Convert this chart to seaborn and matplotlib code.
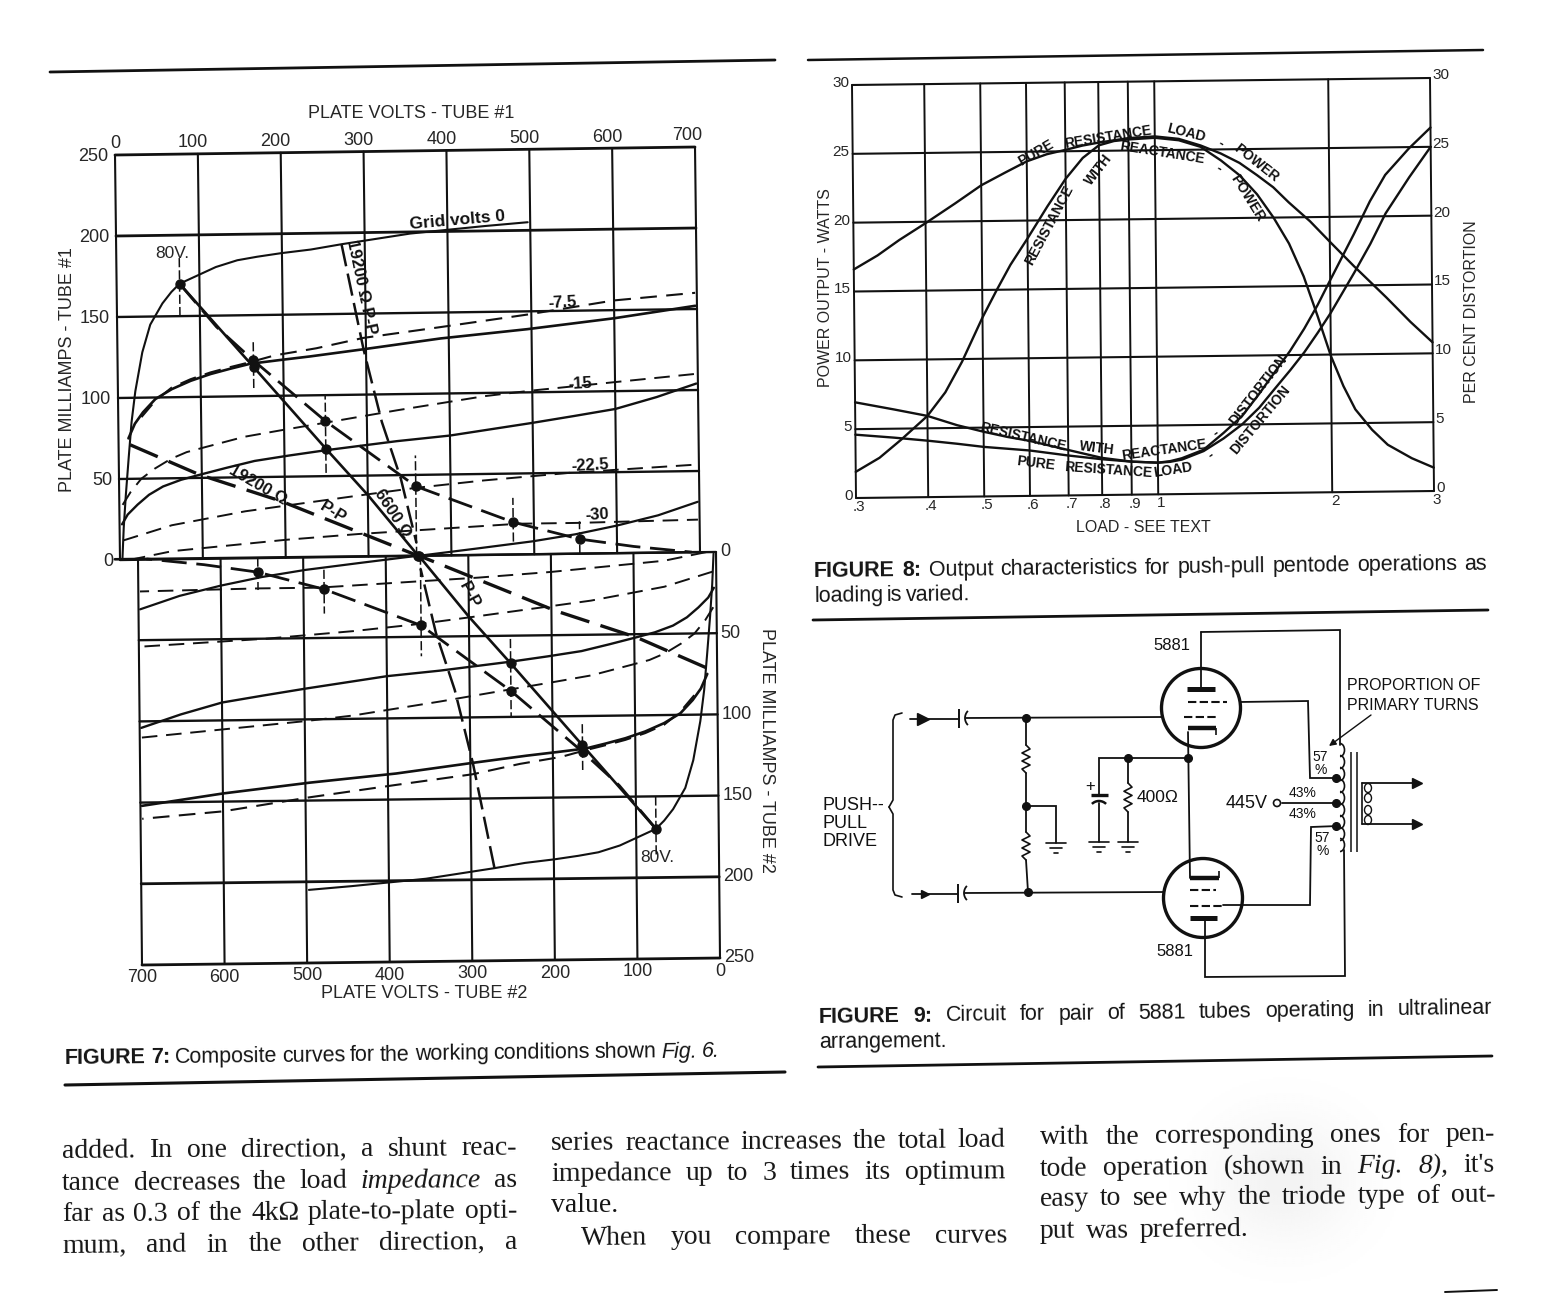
import numpy as np
import matplotlib
matplotlib.use("Agg")
import matplotlib.pyplot as plt
import seaborn as sns
from matplotlib.patches import Arc, Circle, Ellipse
from matplotlib.transforms import Affine2D

W, H = 1543, 1294

# ---- figure 7 data (plate volts, plate mA)
grid0_v = [3, 5, 8, 12, 16, 21, 30, 40, 55, 66, 76, 98, 120, 146, 170, 199, 235, 272, 355, 445, 497]
grid0_ma = [1, 20, 40, 63, 85, 104, 128, 145, 158, 165, 170, 175, 180, 184, 186, 188, 190, 193, 199, 203, 205]
g75_v = [12, 20, 30, 45, 65, 88, 112, 135, 160, 195, 232, 297, 390, 495, 600, 698]
g75_ma = [75, 84, 91, 99, 105, 110, 114, 117, 120, 122, 124, 128, 134, 139, 145, 152]
g75d_v = [28, 45, 65, 88, 112, 135, 160, 190, 240, 297, 390, 495, 600, 698]
g75d_ma = [88, 98, 106, 111, 115, 118, 121, 125, 129, 135, 141, 148, 156, 160]
g15_v = [3, 10, 22, 36, 53, 75, 98, 130, 164, 205, 250, 336, 400, 442, 498, 550, 600, 650, 698]
g15_ma = [22, 28, 34, 40, 45, 49, 52, 56, 60, 63, 66, 71, 74, 77, 81, 85, 89, 96, 104]
g15d_v = [4, 14, 27, 43, 63, 82, 105, 152, 200, 250, 336, 442, 498, 587, 698]
g15d_ma = [34, 42, 50, 56, 62, 66, 69, 75, 79, 83, 90, 98, 101, 105, 110]
g225_v = [360, 430, 498, 550, 600, 650, 698]
g225_ma = [0, 4, 8, 12, 17, 23, 31]
g225d_v = [4, 63, 152, 230, 293, 358, 440, 545, 698]
g225d_ma = [12, 21, 29, 34, 38, 42, 46, 50, 54]
g30d_v = [12, 63, 199, 288, 366, 482, 553, 698]
g30d_ma = [0, 5, 11, 14, 16, 19, 19, 20]
load_6600_v = [76, 164, 250, 300, 360]
load_6600_ma = [170, 118, 67, 38, 0]
load_react_v = [76, 120, 164, 250, 358, 475, 555, 620, 690]
load_react_ma = [170, 143, 122, 84, 43, 20, 9, 4, 0]
load_19200_v = [14, 97, 195, 294, 360]
load_19200_ma = [71, 52, 35, 14, 0]
load_1920_v = [272, 297, 318, 340, 358]
load_1920_ma = [193, 128, 83, 48, 8]
point_v = [76, 164, 164, 250, 250, 358, 360, 475, 555]
point_ma = [170, 122, 118, 84, 67, 43, 0, 20, 9]
mark_v = [76, 164, 250, 358, 475, 555]
mark_lo = [150, 105, 52, 0, 8, 0]
mark_hi = [186, 135, 100, 62, 35, 20]
volt_ticks = [0, 100, 200, 300, 400, 500, 600, 700]
ma_ticks = [0, 50, 100, 150, 200, 250]

# ---- figure 8 data (load, watts or per cent)
load_ticks = [.3, .4, .5, .6, .7, .8, .9, 1, 2, 3]
load_labels = [".3", ".4", ".5", ".6", ".7", ".8", ".9", "1", "2", "3"]
watt_ticks = [0, 5, 10, 15, 20, 25, 30]
pure_x = [.3, .33, .36, .4, .45, .5, .55, .6, .65, .7, .75, .8, .9, 1, 1.1, 1.2, 1.3, 1.4, 1.5, 1.6, 1.7, 1.85, 2, 2.2, 2.5, 2.75, 3]
pure_power = [16.6, 17.6, 18.7, 19.9, 21.3, 22.6, 23.5, 24.3, 24.8, 25.1, 25.4, 25.6, 25.9, 26, 25.8, 25.3, 24.7, 24,
              23.1, 22.2, 21.1, 19.7, 18.2, 16.4, 14.1, 12.3, 10.8]
react_x = [.3, .33, .36, .4, .43, .46, .5, .53, .56, .6, .65, .7, .75, .8, .85, .9, 1, 1.1, 1.2, 1.3, 1.4, 1.5, 1.6, 1.7,
           1.8, 1.9, 2, 2.1, 2.2, 2.35, 2.5, 2.75, 3]
react_power = [1.9, 2.9, 4.2, 5.9, 7.6, 9.8, 13, 15, 16.8, 18.7, 21, 23, 24.5, 25.4, 25.7, 25.8, 25.9, 25.7, 25.2, 24.2,
               23.1, 21.7, 20, 18.1, 15.7, 12.8, 9.9, 7.7, 6, 4.5, 3.4, 2.4, 1.7]
dist_x = [.3, .35, .4, .45, .5, .55, .6, .7, .8, .9, 1, 1.05, 1.1, 1.2, 1.3, 1.4, 1.5, 1.6, 1.7, 1.8, 1.9, 2, 2.2, 2.35, 2.5, 2.75, 3]
react_dist = [6.95, 6.4, 5.9, 5.2, 4.7, 4.3, 4, 3.3, 2.7, 2.4, 2.3, 2.4, 2.6, 3.2, 4.4, 5.6, 7.2, 8.8, 10.3, 11.9, 13.6,
              15.4, 18.7, 21.1, 23, 24.9, 26.4]
dist2_x = [.3, .35, .4, .45, .5, .6, .7, .8, .9, 1, 1.05, 1.1, 1.2, 1.3, 1.4, 1.5, 1.6, 1.7, 1.8, 1.9, 2, 2.2, 2.35, 2.5, 2.75, 3]
pure_dist = [4.6, 4.35, 4.1, 3.85, 3.6, 3.3, 2.9, 2.6, 2.4, 2.3, 2.35, 2.5, 3.1, 4, 5, 6.2, 7.6, 8.9, 10.2, 11.6, 13, 15.9,
             18, 20.2, 22.8, 25]

sns.set_style("white")
plt.rcParams["font.family"] = ["Liberation Sans", "DejaVu Sans"]
fig = plt.figure(figsize=(W / 100, H / 100), dpi=100)
page = fig.add_axes([0, 0, 1, 1])

# the faint show-through on the scan, lower right
yy, xx = np.mgrid[-1:1:120j, -1:1:120j]
page.imshow(0.05 * np.exp(-3.5 * (xx ** 2 + yy ** 2)), extent=(1150, 1420, 1300, 1060), cmap="gray_r", vmin=0, vmax=1,
            aspect="auto", interpolation="bilinear")
page.set_xlim(0, W)
page.set_ylim(H, 0)
page.axis("off")


def panel(left, top, right, bottom, sx, sy):
    ax = fig.add_axes([left / W, 1 - bottom / H, (right - left) / W, (bottom - top) / H])
    ax.axis("off")
    tr = ax.transData + ax.transAxes.inverted() + Affine2D.from_values(1, sy, sx, 1, 0, 0) + ax.transAxes
    return ax, tr


def curve(ax, tr, x, y, lw=1.5, ls="-"):
    sns.lineplot(x=x, y=y, ax=ax, color="#111111", linewidth=lw, linestyle=ls, sort=False,
                 estimator=None, transform=tr, clip_on=False, legend=False)


DASH = (0, (8, 4.5))
BIG = (0, (9, 3.5))


def draw_fig7(ax, tr):
    for v in volt_ticks:
        ax.plot([v, v], [0, 250], color="#111111", lw=1.5, transform=tr, clip_on=False)
    for m in ma_ticks:
        lw = 2.0 if m in (200, 250) else 1.7
        ax.plot([0, 700], [m, m], color="#111111", lw=lw, transform=tr, clip_on=False)
    curve(ax, tr, grid0_v, grid0_ma, 1.5)
    curve(ax, tr, g75_v, g75_ma, 1.9)
    curve(ax, tr, g75d_v, g75d_ma, 1.5, DASH)
    curve(ax, tr, g15_v, g15_ma, 1.7)
    curve(ax, tr, g15d_v, g15d_ma, 1.4, DASH)
    curve(ax, tr, g225_v, g225_ma, 1.6)
    curve(ax, tr, g225d_v, g225d_ma, 1.4, DASH)
    curve(ax, tr, g30d_v, g30d_ma, 1.4, DASH)
    curve(ax, tr, load_6600_v, load_6600_ma, 1.9)
    curve(ax, tr, load_react_v, load_react_ma, 2.0, BIG)
    curve(ax, tr, load_19200_v, load_19200_ma, 2.4, BIG)
    curve(ax, tr, load_1920_v, load_1920_ma, 1.8, (0, (9, 3)))
    ax.plot(point_v, point_ma, "o", color="#111111", ms=6.5, transform=tr, clip_on=False)
    for v, lo, hi in zip(mark_v, mark_lo, mark_hi):
        ax.plot([v, v], [lo, hi], color="#111111", lw=1.1, ls=(0, (6, 2)), transform=tr, clip_on=False)


# figure 7, upper set of curves
ax7a, tr7a = panel(120, 155, 700, 560, -5 / 580, 8 / 405)
draw_fig7(ax7a, tr7a)
ax7a.set_xlim(0, 700)
ax7a.set_ylim(0, 250)
for v in volt_ticks:
    ax7a.annotate(str(v), (v, 250), xycoords=tr7a, xytext=(-8 if v == 700 else -5 if v else 0, 11), textcoords="offset pixels",
                  ha="center", va="center", fontsize=13)
for m in ma_ticks:
    ax7a.annotate(str(m), (0, m), xycoords=tr7a, xytext=(-7, -2), textcoords="offset pixels",
                  ha="right", va="center", fontsize=13)

# figure 7, lower set of curves is the same tube seen from the other end
ax7b, tr7b = panel(142, 559, 720, 965, -4 / 578, 7 / 406)
draw_fig7(ax7b, tr7b)
ax7b.plot([728, 700], [0, 0], color="#111111", lw=1.9, transform=tr7b, clip_on=False)
ax7b.set_xlim(700, 0)
ax7b.set_ylim(250, 0)
for v in volt_ticks:
    ax7b.annotate(str(v), (v, 250), xycoords=tr7b, xytext=(0, -13), textcoords="offset pixels",
                  ha="center", va="center", fontsize=13)
for m in ma_ticks:
    ax7b.annotate(str(m), (0, m), xycoords=tr7b, xytext=(4, 0), textcoords="offset pixels",
                  ha="left", va="center", fontsize=13)

# figure 8
ax8, tr8 = panel(856, 85, 1434, 498, -4 / 578, 7 / 413)
ax8.set_xscale("log")
for x in load_ticks:
    ax8.plot([x, x], [0, 30], color="#111111", lw=1.4, transform=tr8, clip_on=False)
for y in watt_ticks:
    ax8.plot([.3, 3], [y, y], color="#111111", lw=1.5, transform=tr8, clip_on=False)
curve(ax8, tr8, pure_x, pure_power, 1.7)
curve(ax8, tr8, react_x, react_power, 1.7)
curve(ax8, tr8, dist_x, react_dist, 1.7)
curve(ax8, tr8, dist2_x, pure_dist, 1.7)
ax8.set_xlim(.3, 3)
ax8.set_ylim(0, 30)
for x, s in zip(load_ticks, load_labels):
    ax8.annotate(s, (x, 0), xycoords=tr8, xytext=(3, -9), textcoords="offset pixels",
                 ha="center", va="center", fontsize=11)
for y in watt_ticks:
    ax8.annotate(str(y), (.3, y), xycoords=tr8, xytext=(-3, 2), textcoords="offset pixels",
                 ha="right", va="center", fontsize=11)
    ax8.annotate(str(y), (3, y), xycoords=tr8, xytext=(2, 3), textcoords="offset pixels",
                 ha="left", va="center", fontsize=11)

# ---- axis titles and hand lettering on the page
SANS = ["Liberation Sans", "DejaVu Sans"]
NARROW = ["Liberation Sans Narrow", "Liberation Sans"]
axis_titles = [("PLATE VOLTS - TUBE #1", 411, 114, 0, 13), ("PLATE MILLIAMPS - TUBE #1", 67, 370, 90, 13),
               ("PLATE VOLTS - TUBE #2", 424, 994, 0, 13), ("PLATE MILLIAMPS - TUBE #2", 767, 750, -90, 13),
               ("80V.", 172, 253, 0, 12.5), ("80V.", 657, 857, 0, 12.5),
               ("POWER OUTPUT - WATTS", 825, 288, 90, 11.5), ("PER CENT DISTORTION", 1471, 312, 90, 11.5),
               ("LOAD - SEE TEXT", 1143, 527, 0, 11.5)]
for s, x, y, rot, size in axis_titles:
    page.text(x, y, s, rotation=rot, fontsize=size, ha="center", va="center", family=SANS)

hand_labels = [("Grid volts 0", 457, 220, 5, 12.5), ("-7.5", 562, 303, 3, 12), ("-15", 580, 384, 3, 12),
               ("-22.5", 590, 466, 3, 12), ("-30", 597, 515, 3, 12), ("19200 Ω", 258, 485, -30, 12),
               ("P-P", 333, 513, -32, 12), ("6600 Ω", 393, 513, -57, 12), ("19200 Ω P-P", 361, 287, -78, 12),
               ("P-P", 469, 595, -62, 12),
               ("PURE", 1036, 153, 30, 10), ("RESISTANCE", 1108, 137, 9, 10), ("LOAD", 1186, 133, -14, 10),
               ("-", 1221, 143, -30, 10), ("POWER", 1256, 163, -38, 10),
               ("RESISTANCE", 1049, 225, 62, 10), ("WITH", 1099, 170, 52, 10), ("REACTANCE", 1162, 153, -9, 10),
               ("-", 1219, 168, -30, 10), ("POWER", 1247, 198, -58, 10),
               ("RESISTANCE", 1023, 437, -13, 10), ("WITH", 1097, 448, -7, 10), ("REACTANCE", 1164, 450, 8, 10),
               ("-", 1216, 433, 35, 10), ("DISTORTION", 1258, 390, 52, 10),
               ("PURE", 1036, 463, -7, 10), ("RESISTANCE", 1108, 470, -4, 10), ("LOAD", 1173, 470, 9, 10),
               ("-", 1211, 455, 35, 10), ("DISTORTION", 1260, 420, 50, 10)]
for s, x, y, rot, size in hand_labels:
    page.text(x, y, s, rotation=rot, fontsize=size, weight="bold", ha="center", va="center",
              family=NARROW, rotation_mode="anchor", color="#111111")

# ---- rules
rules = [(50, 72, 775, 60, 2.0), (808, 60, 1483, 50, 1.8), (813, 620, 1488, 610, 2.0),
         (65, 1085, 785, 1072, 2.2), (818, 1067, 1492, 1056, 2.0), (1445, 1292, 1497, 1290, 1.4)]
for x0, y0, x1, y1, lw in rules:
    page.plot([x0, x1], [y0, y1], color="#111111", lw=lw)

# ---- circuit
wires = [[(1201, 632), (1201, 689)], [(1201, 632), (1340, 630), (1340, 745)],
         [(1240, 702), (1308, 701), (1310, 778), (1338, 778)],
         [(910, 719), (959, 719)], [(966, 718), (1162, 717)],
         [(1026, 718), (1026, 745)], [(1026, 773), (1026, 832)], [(1026, 860), (1028, 892)],
         [(1026, 806), (1056, 806), (1056, 843)],
         [(912, 894), (958, 894)], [(965, 893), (1164, 892)],
         [(1099, 795), (1099, 758), (1188, 758)], [(1099, 803), (1099, 842)],
         [(1128, 758), (1128, 783)], [(1128, 812), (1128, 842)],
         [(1188, 732), (1190, 878)],
         [(1223, 905), (1310, 905), (1311, 827), (1338, 826)],
         [(1205, 918), (1205, 977), (1345, 976), (1344, 850)],
         [(1282, 803), (1338, 803)],
         [(1362, 783), (1419, 783)], [(1362, 824), (1419, 824)]]
for w in wires:
    page.plot([p[0] for p in w], [p[1] for p in w], color="#111111", lw=1.3, solid_joinstyle="miter")

bars = [(1187, 689, 1215, 689, 3.6), (1188, 728, 1216, 728, 3.2), (1190, 878, 1219, 878, 3.2), (1190, 918, 1217, 918, 3.6),
        (1216, 728, 1216, 735, 1.2), (1219, 878, 1219, 871, 1.2),
        (959, 709, 959, 728, 1.4), (958, 884, 958, 903, 1.4), (1091, 795, 1108, 795, 2.4),
        (1351, 752, 1351, 852, 1.1), (1357, 752, 1357, 852, 1.1)]
for x0, y0, x1, y1, lw in bars:
    page.plot([x0, x1], [y0, y1], color="#111111", lw=lw, solid_capstyle="butt")
for xs, y in [((1188, 1227), 702), ((1184, 1216), 717), ((1190, 1216), 890), ((1190, 1223), 906)]:
    page.plot(xs, [y, y], color="#111111", lw=1.5, ls=(0, (4, 1.6)))

for cx, cy in [(1201, 708), (1203, 898)]:
    page.add_patch(Ellipse((cx, cy), 79, 79, fill=False, ec="#111111", lw=2.4))

# capacitor curved plates and the secondary of the transformer
page.add_patch(Arc((975, 718), 20, 20, theta1=135, theta2=225, ec="#111111", lw=1.3))
page.add_patch(Arc((974, 893), 20, 20, theta1=135, theta2=225, ec="#111111", lw=1.3))
page.add_patch(Arc((1099, 811), 20, 20, theta1=225, theta2=315, ec="#111111", lw=1.8))
for y in [750, 762, 774, 786, 798, 810, 822, 834, 845]:
    page.add_patch(Arc((1340, y), 9, 13, theta1=-90, theta2=90, ec="#111111", lw=1.2))
for y in [788, 798, 810, 820]:
    page.add_patch(Ellipse((1368, y), 7, 9, fill=False, ec="#111111", lw=1.0))
page.plot([1362, 1362], [783, 824], color="#111111", lw=1.2)

zig = [0, 1, -1, 1, -1, 1, -1, 0]
for xc, y0, y1 in [(1026, 745, 773), (1026, 832, 860), (1128, 783, 812)]:
    ys = np.linspace(y0, y1, len(zig))
    page.plot(xc + 4 * np.array(zig), ys, color="#111111", lw=1.2)

for xg, yg in [(1056, 843), (1099, 842), (1128, 842)]:
    for dy, half in [(0, 10), (5, 6), (10, 2)]:
        page.plot([xg - half, xg + half], [yg + dy, yg + dy], color="#111111", lw=1.2)

nodes = [(1026, 718), (1026, 806), (1028, 892), (1128, 758), (1188, 758),
         (1336, 778), (1336, 803), (1336, 826)]
page.plot([n[0] for n in nodes], [n[1] for n in nodes], "o", color="#111111", ms=5.5, ls="none")
page.plot([923], [719], ">", color="#111111", ms=8, ls="none")
page.plot([925], [894], ">", color="#111111", ms=6, ls="none")
page.plot([1417, 1417], [783, 824], ">", color="#111111", ms=7, ls="none")
page.add_patch(Circle((1277, 803), 3.5, fill=False, ec="#111111", lw=1.2, zorder=5))
page.annotate("", xy=(1329, 746), xytext=(1371, 715),
              arrowprops=dict(arrowstyle="-|>", color="#111111", lw=1.0, shrinkA=0, shrinkB=0))

# input brace
page.plot([902, 895, 893, 893, 889], [713, 715, 720, 800, 807], color="#111111", lw=1.2)
page.plot([889, 893, 893, 895, 902], [807, 814, 890, 895, 897], color="#111111", lw=1.2)

circuit_text = [("5881", 1172, 646, 12, "center"), ("5881", 1175, 952, 12, "center"), ("400Ω", 1158, 798, 12.5, "center"),
                ("445V", 1247, 803, 13, "center"), ("+", 1090, 786, 12, "center"),
                ("PUSH--", 823, 806, 13, "left"), ("PULL", 823, 823, 13, "left"), ("DRIVE", 823, 841, 13, "left"),
                ("PROPORTION OF", 1347, 686, 11.5, "left"), ("PRIMARY TURNS", 1347, 705, 11.5, "left"),
                ("43%", 1303, 793, 10, "center"), ("43%", 1303, 814, 10, "center"),
                ("57", 1320, 757, 10, "center"), ("%", 1321, 770, 10, "center"),
                ("57", 1322, 838, 10, "center"), ("%", 1323, 851, 10, "center")]
for s, x, y, size, ha in circuit_text:
    page.text(x, y, s, fontsize=size, ha=ha, va="center", family=SANS, color="#111111")

# ---- captions and body copy, stretched word by word like set type
renderer = fig.canvas.get_renderer()


def put_line(words, x0, x1, y0, y1, size, family):
    pieces = []
    for word in words.split():
        weight, style = "normal", "normal"
        if word.startswith("#"):
            weight, word = "bold", word[1:]
        if word.startswith("_"):
            style, word = "italic", word[1:]
        pieces.append((word, weight, style))
    rot = -np.degrees(np.arctan2(y1 - y0, x1 - x0))
    widths = []
    for word, weight, style in pieces:
        t = page.text(0, 0, word, fontsize=size, family=family, weight=weight, style=style)
        widths.append(t.get_window_extent(renderer).width)
        t.remove()
    gap = (x1 - x0 - sum(widths)) / max(len(pieces) - 1, 1)
    x = x0
    for (word, weight, style), w in zip(pieces, widths):
        y = y0 + (y1 - y0) * (x - x0) / (x1 - x0)
        page.text(x, y, word, fontsize=size, family=family, weight=weight, style=style, rotation=rot,
                  rotation_mode="anchor", ha="left", va="baseline", color="#151515")
        x += w + gap


captions = [("#FIGURE #7: Composite curves for the working conditions shown _Fig. _6.", 65, 720, 1064, 1057),
            ("#FIGURE #8: Output characteristics for push-pull pentode operations as", 814, 1487, 577, 570),
            ("loading is varied.", 814, 970, 602, 600),
            ("#FIGURE #9: Circuit for pair of 5881 tubes operating in ultralinear", 819, 1492, 1023, 1014),
            ("arrangement.", 819, 945, 1048, 1047)]
for s, x0, x1, y0, y1 in captions:
    put_line(s, x0, x1, y0, y1, 15.5, SANS)

body = [("added. In one direction, a shunt reac-", 62, 517, 1158, 1155),
        ("tance decreases the load _impedance as", 62, 517, 1190, 1187),
        ("far as 0.3 of the 4kΩ plate-to-plate opti-", 62, 517, 1221, 1218),
        ("mum, and in the other direction, a", 62, 517, 1253, 1249),
        ("series reactance increases the total load", 551, 1005, 1150, 1147),
        ("impedance up to 3 times its optimum", 551, 1005, 1181, 1178),
        ("value.", 551, 618, 1212, 1212),
        ("When you compare these curves", 581, 1007, 1245, 1242),
        ("with the corresponding ones for pen-", 1040, 1495, 1144, 1141),
        ("tode operation (shown in _Fig. _8), it's", 1040, 1495, 1176, 1172),
        ("easy to see why the triode type of out-", 1040, 1495, 1206, 1202),
        ("put was preferred.", 1040, 1248, 1238, 1236)]
for s, x0, x1, y0, y1 in body:
    put_line(s, x0, x1, y0, y1, 20, ["Liberation Serif", "DejaVu Serif"])

fig.savefig("out.png", dpi=100)
